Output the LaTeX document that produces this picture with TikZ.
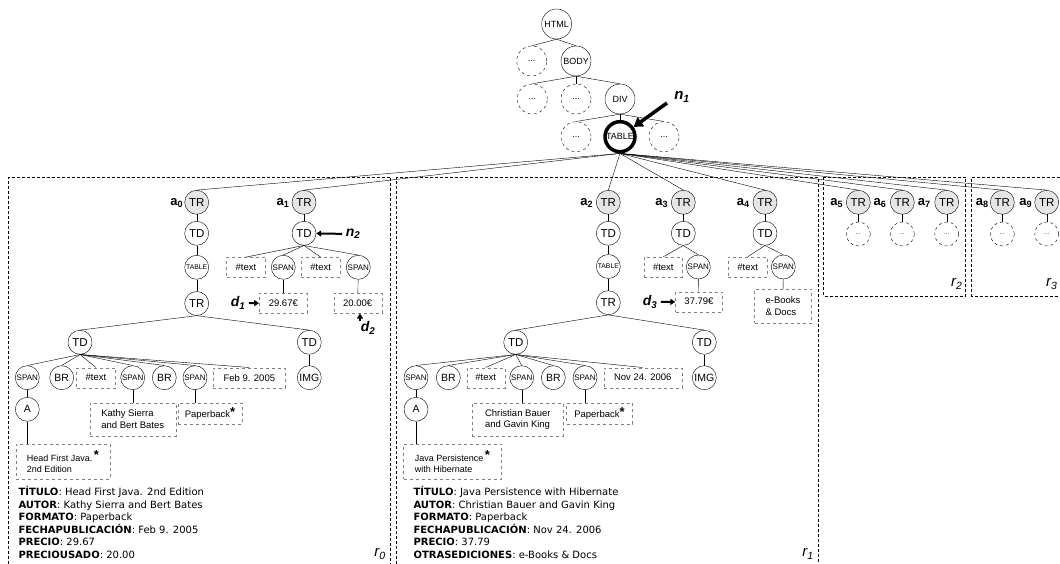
\documentclass[tikz,border=0pt]{standalone}
\usepackage{fontspec}
\setmainfont{Liberation Sans}
\newfontfamily\verd{DejaVu Sans}
\usetikzlibrary{arrows.meta}

\definecolor{trgray}{RGB}{230,230,230}
\definecolor{boxgray}{RGB}{128,128,128}

\newcommand{\astmark}{\raisebox{1.5pt}{\bfseries\fontsize{13}{13}\selectfont *}}

\tikzset{
  tag/.style={circle,draw=black,minimum size=24pt,inner sep=0pt,font=\fontsize{11.5}{11.5}\selectfont},
  row/.style={tag,fill=trgray},
  small/.style={font=\fontsize{8}{8}\selectfont},
  tiny/.style={font=\fontsize{6.8}{6.8}\selectfont},
  mid/.style={font=\fontsize{10.5}{10.5}\selectfont},
  dots/.style={circle,draw=black,dashed,minimum size=24pt,inner sep=0pt,font=\fontsize{6}{6}\selectfont},
  big/.style={minimum size=30pt,font=\fontsize{9}{9}\selectfont},
  leaf/.style={draw=boxgray,dashed,inner sep=0pt,minimum height=20pt,align=left,font=\fontsize{9.5}{11.5}\selectfont},
  region/.style={dashed,dash pattern=on 3pt off 2pt,line width=0.8pt},
  alabel/.style={font=\bfseries\fontsize{13}{13}\selectfont},
  plabel/.style={font=\bfseries\itshape\fontsize{14}{14}\selectfont},
  rlabel/.style={font=\itshape\fontsize{15}{15}\selectfont},
  ptr/.style={line width=2pt,-{Triangle[length=5pt,width=6pt]}},
  bigptr/.style={line width=3.5pt,-{Triangle[length=9pt,width=11pt]}},
  info/.style={anchor=north west,inner sep=0pt,align=left,font=\verd\fontsize{10}{12.6}\selectfont}
}

\begin{document}
\begin{tikzpicture}[x=1pt,y=-1pt]
      \useasboundingbox (0,0) rectangle (1060,564);

      % top of the page tree
      \node[tag,big] (html) at (556.7,24){HTML};
      \node[dots,big] (u1) at (531.7,61){...};
      \node[tag,big] (body) at (576,61){BODY};
      \node[dots,big] (u2) at (532.3,99){...};
      \node[dots,big] (u3) at (576,99){...};
      \node[tag,big] (div) at (620,99){DIV};
      \node[dots,big] (u4) at (576,136.7){...};
      \node[tag,big,line width=3.5pt] (tab) at (620,136.7){TABLE};
      \node[dots,big] (u5) at (664,136.7){...};

      \node[plabel,font=\bfseries\itshape\fontsize{15}{15}\selectfont] (n1) at (682,97){n\textsubscript{1}};
      \coordinate (n1tail) at (667,103);

      % regions
      \draw[region] (8.3,564) -- (8.3,177.3) -- (390.5,177.3) -- (390.5,564);
      \draw[region] (396.5,564) -- (396.5,177.3) -- (818,177.3) -- (818,564);
      \draw[region] (823.3,177.3) rectangle (965.7,296);
      \draw[region] (1060,177.3) -- (971.7,177.3) -- (971.7,296) -- (1060,296);
      \node[rlabel] (r0) at (380,554){r\textsubscript{0}};
      \node[rlabel] (r1) at (808,554){r\textsubscript{1}};
      \node[rlabel] (r2) at (956.7,284){r\textsubscript{2}};
      \node[rlabel] (r3) at (1051.7,284){r\textsubscript{3}};

      % record r0
      \node[row] (a) at (196.7,202.3){TR};
      \node[tag] (b) at (196.7,233.3){TD};
      \node[tag,tiny] (c) at (196.7,267.3){TABLE};
      \node[tag] (d) at (196.7,303.5){TR};
      \node[tag] (e) at (80,342.3){TD};
      \node[tag] (f) at (309.3,342.3){TD};
      \node[tag,small] (g1) at (27.3,377.7){SPAN};
      \node[tag,mid] (g2) at (61.7,377.7){BR};
      \node[leaf,minimum width=39pt] (g3) at (96,377.7){\#text};
      \node[tag,small] (g4) at (132.7,377.7){SPAN};
      \node[tag,mid] (g5) at (164.3,377.7){BR};
      \node[tag,small] (g6) at (195,377.7){SPAN};
      \node[leaf,minimum width=72pt] (g7) at (249.3,377.7){Feb 9. 2005};
      \node[tag,mid] (g8) at (309.3,377.7){IMG};
      \node[tag,mid] (h) at (27.3,409.3){A};
      \node[leaf,minimum width=94pt,minimum height=35pt,font=\fontsize{9}{11.5}\selectfont] (k1) at (63,461.7){Head First Java.\,\astmark\\2nd Edition};
      \node[leaf,minimum width=86pt,minimum height=33pt] (k2) at (132.7,419.3){Kathy Sierra\\and Bert Bates};
      \node[leaf,minimum width=64pt,minimum height=21pt] (k3) at (210,413.3){Paperback\astmark};

      \node[row] (i) at (304,202.3){TR};
      \node[tag] (j) at (304,233.3){TD};
      \node[leaf,minimum width=39pt] (l1) at (246,267.3){\#text};
      \node[tag,small] (l2) at (283.3,267.3){SPAN};
      \node[leaf,minimum width=39pt] (l3) at (320.7,267.3){\#text};
      \node[tag,small] (l4) at (358.3,267.3){SPAN};
      \node[leaf,minimum width=48pt] (v1) at (283.3,303.3){29.67€};
      \node[leaf,minimum width=48pt] (v2) at (357.7,303.3){20.00€};

      \node[alabel] (a0) at (176.7,203){a\textsubscript{0}};
      \node[alabel] (a1) at (283,203){a\textsubscript{1}};
      \node[plabel] (n2) at (353,234){n\textsubscript{2}};
      \node[plabel] (d1) at (238,303){d\textsubscript{1}};
      \node[plabel] (d2) at (368,328){d\textsubscript{2}};
      \coordinate (d2tail) at (360,321);

      \node[info] (t0) at (18.3,486){\textbf{TÍTULO}: Head First Java. 2nd Edition\\
        \textbf{AUTOR}: Kathy Sierra and Bert Bates\\
        \textbf{FORMATO}: Paperback\\
        \textbf{FECHAPUBLICACIÓN}: Feb 9. 2005\\
        \textbf{PRECIO}: 29.67\\
        \textbf{PRECIOUSADO}: 20.00};

      % record r1
      \node[row] (m) at (608.3,202.3){TR};
      \node[tag] (o) at (608.3,233.3){TD};
      \node[tag,tiny] (p) at (608.3,266.5){TABLE};
      \node[tag] (q) at (608.3,302.7){TR};
      \node[tag] (s) at (515.7,342.3){TD};
      \node[tag] (t) at (704.3,342.3){TD};
      \node[tag,small] (w1) at (416,377.7){SPAN};
      \node[tag,mid] (w2) at (448.3,377.7){BR};
      \node[leaf,minimum width=38pt] (w3) at (485.7,377.7){\#text};
      \node[tag,small] (w4) at (521.7,377.7){SPAN};
      \node[tag,mid] (w5) at (553.3,377.7){BR};
      \node[tag,small] (w6) at (585,377.7){SPAN};
      \node[leaf,minimum width=78pt] (w7) at (642.7,377.7){Nov 24. 2006};
      \node[tag,mid] (w8) at (704.3,377.7){IMG};
      \node[tag,mid] (x) at (416,409.3){A};
      \node[leaf,minimum width=98pt,minimum height=35pt,font=\fontsize{9}{11.5}\selectfont] (y1) at (452.5,461.7){Java Persistence\,\astmark\\with Hibernate};
      \node[leaf,minimum width=91pt,minimum height=33pt] (y2) at (517.8,419.3){Christian Bauer\\and Gavin King};
      \node[leaf,minimum width=66pt,minimum height=21pt] (y3) at (599.5,413.3){Paperback\astmark};

      \node[row] (z1) at (683.3,202.3){TR};
      \node[tag] (z2) at (683.3,233.3){TD};
      \node[leaf,minimum width=38pt] (z3) at (663.3,267){\#text};
      \node[tag,small] (z4) at (698.3,267){SPAN};
      \node[leaf,minimum width=47pt] (v3) at (699,301.7){37.79€};

      \node[row] (z5) at (765,202.3){TR};
      \node[tag] (z6) at (765,233.3){TD};
      \node[leaf,minimum width=39pt] (z7) at (747.7,267){\#text};
      \node[tag,small] (z8) at (783.3,267){SPAN};
      \node[leaf,minimum width=57pt,minimum height=34pt] (v4) at (783,306.3){e-Books\\\& Docs};

      \node[alabel] (a2) at (586.7,203){a\textsubscript{2}};
      \node[alabel] (a3) at (661.7,203){a\textsubscript{3}};
      \node[alabel] (a4) at (743.3,203){a\textsubscript{4}};
      \node[plabel] (d3) at (650,302){d\textsubscript{3}};

      \node[info] (t1) at (413.3,486){\textbf{TÍTULO}: Java Persistence with Hibernate\\
        \textbf{AUTOR}: Christian Bauer and Gavin King\\
        \textbf{FORMATO}: Paperback\\
        \textbf{FECHAPUBLICACIÓN}: Nov 24. 2006\\
        \textbf{PRECIO}: 37.79\\
        \textbf{OTRASEDICIONES}: e-Books \& Docs};

      % records r2 and r3
      \node[row] (b5) at (858.3,202.3){TR};
      \node[row] (b6) at (902.3,202.3){TR};
      \node[row] (b7) at (946.7,202.3){TR};
      \node[row] (b8) at (1002.3,202.3){TR};
      \node[row] (b9) at (1046.7,202.3){TR};
      \node[dots] (e5) at (858.3,234){...};
      \node[dots] (e6) at (902.3,234){...};
      \node[dots] (e7) at (946.7,234){...};
      \node[dots] (e8) at (1002.3,234){...};
      \node[dots] (e9) at (1046.7,234){...};
      \node[alabel] (a5) at (836.7,203){a\textsubscript{5}};
      \node[alabel] (a6) at (880,203){a\textsubscript{6}};
      \node[alabel] (a7) at (924.3,203){a\textsubscript{7}};
      \node[alabel] (a8) at (982.3,203){a\textsubscript{8}};
      \node[alabel] (a9) at (1025.7,203){a\textsubscript{9}};

      % edges
      \draw (html.south) -- (u1.north);
      \draw (html.south) -- (body.north);
      \draw (body.south) -- (u2.north);
      \draw (body.south) -- (u3.north);
      \draw (body.south) -- (div.north);
      \draw (div.south) -- (u4.north);
      \draw (div.south) -- (tab.north);
      \draw (div.south) -- (u5.north);
      \draw (tab.south) -- (a.north);
      \draw (tab.south) -- (i.north);
      \draw (tab.south) -- (m.north);
      \draw (tab.south) -- (z1.north);
      \draw (tab.south) -- (z5.north);
      \draw (tab.south) -- (b5.north);
      \draw (tab.south) -- (b6.north);
      \draw (tab.south) -- (b7.north);
      \draw (tab.south) -- (b8.north);
      \draw (tab.south) -- (b9.north);

      \draw (a) -- (b);
      \draw (b) -- (c);
      \draw (c) -- (d);
      \draw (d.south) -- (e.north);
      \draw (d.south) -- (f.north);
      \draw (e.south) -- (g1.north);
      \draw (e.south) -- (g2.north);
      \draw (e.south) -- (g3.north);
      \draw (e.south) -- (g4.north);
      \draw (e.south) -- (g5.north);
      \draw (e.south) -- (g6.north);
      \draw (e.south) -- (g7.north);
      \draw (f) -- (g8);
      \draw (g1) -- (h);
      \draw (h.south) -- (h.south |- k1.north);
      \draw (g4.south) -- (g4.south |- k2.north);
      \draw (g6.south) -- (g6.south |- k3.north);
      \draw (i) -- (j);
      \draw (j.south) -- (l1.north);
      \draw (j.south) -- (l2.north);
      \draw (j.south) -- (l3.north);
      \draw (j.south) -- (l4.north);
      \draw (l2) -- (v1);
      \draw (l4) -- (v2);

      \draw (m) -- (o);
      \draw (o) -- (p);
      \draw (p) -- (q);
      \draw (q.south) -- (s.north);
      \draw (q.south) -- (t.north);
      \draw (s.south) -- (w1.north);
      \draw (s.south) -- (w2.north);
      \draw (s.south) -- (w3.north);
      \draw (s.south) -- (w4.north);
      \draw (s.south) -- (w5.north);
      \draw (s.south) -- (w6.north);
      \draw (s.south) -- (w7.north);
      \draw (t) -- (w8);
      \draw (w1) -- (x);
      \draw (x.south) -- (x.south |- y1.north);
      \draw (w4.south) -- (w4.south |- y2.north);
      \draw (w6.south) -- (w6.south |- y3.north);
      \draw (z1) -- (z2);
      \draw (z2.south) -- (z3.north);
      \draw (z2.south) -- (z4.north);
      \draw (z4) -- (v3);
      \draw (z5) -- (z6);
      \draw (z6.south) -- (z7.north);
      \draw (z6.south) -- (z8.north);
      \draw (z8) -- (v4);

      \draw (b5) -- (e5);
      \draw (b6) -- (e6);
      \draw (b7) -- (e7);
      \draw (b8) -- (e8);
      \draw (b9) -- (e9);

      % pointers
      \draw[bigptr] (n1tail) -- (tab);
      \draw[ptr] (n2) -- (j);
      \draw[ptr] (d1) -- (v1);
      \draw[ptr] (d2tail) -- (d2tail |- v2.south);
      \draw[ptr] (d3) -- (v3);
    \end{tikzpicture}
\end{document}
